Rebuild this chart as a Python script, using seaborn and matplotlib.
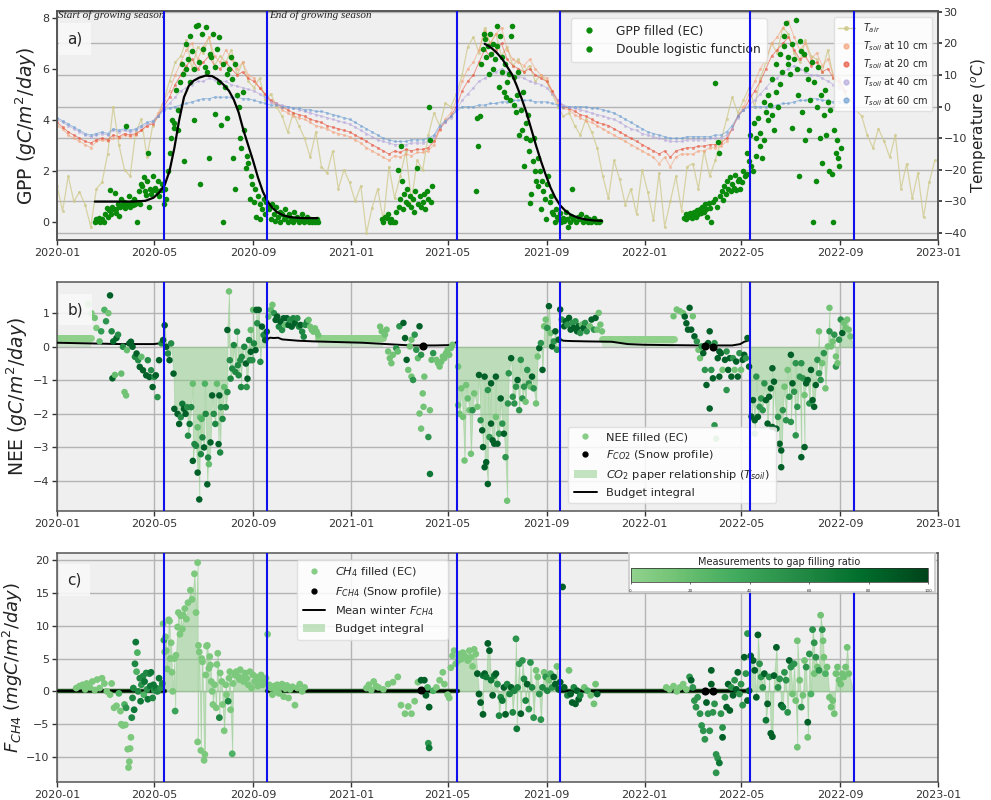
import numpy as np
import pandas as pd
import matplotlib
matplotlib.use("Agg")
import matplotlib.pyplot as plt
from matplotlib.colors import LinearSegmentedColormap, Normalize
from matplotlib.cm import ScalarMappable
from matplotlib.lines import Line2D
from matplotlib.patches import Patch
import seaborn as sns

# ---------------- DATA ----------------
START = "2020-01-01"
season_start = ["2020-05-13", "2021-05-13", "2022-05-12"]
season_end = ["2020-09-18", "2021-09-18", "2022-09-18"]

# weekly temperatures (deg C), first value on 2020-01-01
t_air = [-25,-33,-22,-30,-27, -31,-38,-26,-24, -15,0,-12,-20, -22,-8,-4,-16,-6, -3,2,8,14, 16,21,12,19,
         17,22,13,16,14, 18,10,14,8, 6,9,2,4, 0,-3,-8,-2,-6, -10,-16,-8,-19, -21,-14,-26,-20,-24,
         -30,-25,-40,-32, -26,-36,-19,-29, -22,-14,-30,-17, -20,-9,-2,-6,1, 0,4,10,19, 22,17,25,20,
         23,16,19,13,15, 11,13,8,10, 8,4,0,-3, -2,-6,-9,-4,-8, -13,-22,-29,-17, -23,-31,-26,-34,-20,
         -27,-36,-21,-38, -30,-22,-33,-19, -18,-26,-14,-22,-17, -11,-4,3,-2, 2,6,0,9, 14,20,17,25,
         23,17,14,21,16, 15,11,18,9, 7,4,2,-1, -3,-9,-13,-7,-11, -16,-9,-26,-18, -29,-21,-35,-24,-17]
t_soil10 = [-6,-7,-9,-10,-11, -12,-13,-11,-10.5, -11,-10,-10,-9, -9.5,-9,-7.5,-6,-5, -2,2,5,10, 14,18,20,15,
            19,22,16,14,18, 15,12,14,10, 9,6,4,1.5, 0.5,-1,-2,-3,-3.5, -4,-5,-6,-6.5, -7,-8,-8.5,-9,-9.5,
            -10.5,-11.5,-13,-14, -15,-16,-17,-15.5, -16,-15,-15.5,-14.5, -14.5,-14,-12,-7.5,-4, -2,2,8,12,
            14,18,24,20, 23,25,18,15,14, 13,15,12,10, 9,5,1,-0.5, -1,-2.5,-3.5,-4.5,-5, -6,-7,-8,-9,
            -10,-11,-12,-13,-14, -15,-16,-18,-16, -19,-16,-15,-15, -15,-14,-14,-13,-13, -12.5,-11,-7,-3,
            0,4,8,12, 15,20,22,25, 27,22,18,20,15, 17,13,15,10, 9,5]
t_soil20 = [-5,-6.5,-8,-9,-10, -11,-11.5,-10.5,-10, -10.5,-9,-9.5,-8.5, -9,-8.5,-7.5,-6,-5.5, -3,0,3,7, 10,13,15,12,
            14,16,13,12,14, 12,10,11,9, 8,6,4,2, 1,0,-1,-2,-2.5, -3,-4,-4.5,-5, -6,-6.5,-7,-7.5,-8,
            -9,-10,-11,-12, -13,-14,-15,-14, -14.5,-13.5,-14,-13.5, -13.5,-13,-11,-7,-5, -3,0,5,8,
            10,14,18,16, 18,20,15,13,12, 11,12,10,9, 8,5,2,0, -0.5,-1.5,-2.5,-3,-4, -5,-5.5,-6,-7,
            -8,-9,-10,-11,-12, -13,-14,-15,-14, -16,-14,-13.5,-13, -13,-12.5,-12.5,-12,-12, -11.5,-10,-7,-3,
            -1,2,5,8, 12,16,18,20, 22,18,15,16,13, 14,11,12,9, 8,5]
t_soil40 = [-4,-5,-6,-7,-8, -9,-9.5,-9,-8.5, -9,-7.5,-8,-7.5, -8,-7.5,-6.5,-5.5,-5, -3,-0.5,1,3, 5,6,7,8,
            8,9,8.5,8,8, 7,6.5,6,5.5, 5,4,3,1.5, 1,0.5,0,-0.5,-1, -1.5,-2,-2.5,-3, -3.5,-4,-4.5,-5,-5.5,
            -6.5,-7.5,-8.5,-9.5, -10.5,-11,-11.5,-12, -12,-12,-11.5,-11.5, -11.5,-11,-9.5,-6.5,-5, -3.5,-1,2,4,
            6,8,9,10, 11,12,11,10,9.5, 9,8,7.5,7, 6,4,2,0.5, 0,-0.5,-1,-1.5,-2, -2.5,-3,-3.5,-4,
            -5,-6,-7,-7.5,-8.5, -9,-9.5,-10,-10.5, -11,-11,-11,-10.5, -10.5,-10.5,-10.5,-10,-10, -10,-9,-7,-3.5,
            -1,0.5,2,4, 6,8,9,11, 12,13,12,11,10, 10,9,8,7, 6,5]
t_soil60 = [-3.5,-4.5,-5.5,-6.5,-7.5, -8.5,-9,-8.5,-8, -8.5,-7,-7.5,-7, -7.5,-7,-6,-5,-4.5, -3,-1,-0.5,0, 0.5,1,1.5,2,
            2.5,2.5,3,3,3, 3,3,2.5,2.5, 2,1.5,1,0.5, 0.5,0,0,-0.5,-0.5, -1,-1,-1.5,-1.5, -2,-2.5,-3,-3.5,-4,
            -5,-6,-7,-8, -9,-10,-10.5,-11, -11,-11,-10.5,-10.5, -10.5,-10,-9,-6,-4.5, -3,-1.5,0,0,
            0,0.5,0.5,1, 1,1.5,1.5,2,2, 2,2,1.5,1.5, 1.5,1,0.5,0, 0,0,0,0,-0.5, -0.5,-1,-1.5,-2,
            -3,-4,-5,-6,-7, -8,-8.5,-9,-9.5, -10,-10,-10,-9.5, -9.5,-9.5,-9.5,-9.5,-9, -9,-8,-6,-3,
            -1,0,0,0, 0,0,0.5,1, 1,1.5,2,2,2.5, 2.5,2,2,1.5, 1.5,1]

# GPP (gC/m2/day): (day since 2020-01-01, value)
gpp_2020 = [(47,0.0),(49,0.1),(50,0.05),(52,0.15),(54,0.0),(56,0.1),(58,0.0),(60,0.3),(62,0.55),(63,0.2),(65,0.45),
            (66,1.25),(67,0.3),(69,0.6),(70,0.5),(72,1.15),(73,0.35),(74,0.5),(76,0.7),(77,0.25),(79,0.6),(80,0.9),
            (82,0.7),(83,0.8),(85,0.55),(86,3.75),(87,0.75),(88,0.7),(90,1.0),(91,0.6),(93,0.8),(94,0.65),(96,0.9),
            (97,0.7),(99,0.0),(100,0.8),(102,1.2),(103,0.7),(105,1.5),(106,1.4),(108,1.75),(109,1.2),(111,1.05),
            (112,1.6),(113,2.7),(114,0.6),(116,1.3),(117,1.1),(119,1.8),(120,1.25),(122,1.35),(124,1.2),(126,1.6),
            (127,1.0),(129,1.25),(131,1.5),(133,0.7),(134,1.3),
            (136,0.9),(138,2.0),(140,2.7),(142,3.3),(143,4.0),(145,3.7),(146,3.9),(148,5.2),(150,4.4),(151,3.6),
            (153,5.5),(155,6.2),(157,5.8),(158,2.4),(160,6.0),(161,7.0),(163,6.4),(165,5.5),(166,7.3),(168,6.7),
            (170,6.0),(171,4.0),(173,7.7),(175,7.75),(177,6.3),(178,1.5),(180,7.4),(182,6.8),(184,6.1),(185,7.65),
            (187,5.9),(189,2.5),(190,6.6),(192,6.5),(194,7.4),(196,4.25),(197,6.1),(199,6.8),(201,5.5),(202,7.25),
            (204,3.8),(206,6.2),(207,0.0),(209,5.3),(211,5.8),(212,4.1),(214,6.0),(216,6.5),(218,5.6),(219,2.5),
            (221,1.3),(222,6.2),(224,5.0),(226,4.5),(228,3.3),(229,2.9),(231,5.1),(233,3.6),(235,2.1),(236,2.6),
            (238,2.3),(240,0.9),(241,1.8),(243,1.5),(245,0.8),(246,1.3),(248,0.2),(250,1.0),(252,0.7),(253,0.1),
            (255,0.5),(257,0.9),(259,0.3),(260,0.8),(262,0.6),
            (264,0.5),(266,0.1),(268,0.7),(270,0.3),(271,0.05),(273,0.6),(275,0.2),(277,0.4),(278,0.0),(280,0.3),
            (282,0.1),(284,0.5),(285,0.2),(287,0.0),(289,0.3),(291,0.15),(293,0.0),(295,0.4),(297,0.1),(299,0.2),
            (301,0.0),(303,0.1),(305,0.3),(307,0.0),(309,0.05),(311,0.2),(313,0.0),(315,0.1),(317,0.0),(319,0.05),
            (321,0.0),(323,0.1),(325,0.0)]
gpp_2021 = [(404,0.1),(406,0.0),(408,0.2),(410,0.15),(412,0.3),(414,0.0),(416,0.1),(418,0.0),(420,0.0),(422,0.4),
            (424,2.05),(425,0.6),(427,0.9),(428,3.0),(429,1.6),(430,0.5),(432,1.1),(434,0.8),(436,1.3),(437,0.7),
            (439,1.0),(441,0.6),(443,0.9),(444,0.4),(446,1.2),(448,2.1),(449,0.7),(451,1.0),(453,0.6),(455,0.8),
            (456,1.1),(458,0.5),(460,1.2),(462,0.9),(463,4.5),(464,3.2),(465,0.8),(467,1.4),
            (521,1.2),(523,4.1),(524,3.0),(526,4.15),(528,6.2),(530,6.8),(531,7.4),(533,7.2),(534,6.5),(536,6.9),
            (537,5.8),(539,7.4),(540,6.6),(542,7.0),(543,6.0),(545,6.4),(547,7.7),(548,6.9),(550,5.3),(551,7.3),
            (553,5.9),(554,6.5),(556,5.1),(557,6.2),(559,4.9),(560,5.5),(562,5.8),(563,4.8),(565,7.3),(566,7.7),
            (568,4.6),(569,5.7),(571,4.3),(572,5.0),(574,5.9),(575,3.4),(577,4.4),(578,3.6),(580,5.1),(581,2.2),
            (583,3.9),(584,3.3),(586,4.2),(587,2.8),(588,0.75),(589,3.2),(590,1.1),(592,2.4),(593,3.3),(595,2.0),
            (596,1.6),(598,2.5),(599,1.4),(601,2.0),(602,0.5),(604,1.6),(605,1.2),(607,0.9),(608,0.1),(610,1.5),
            (611,1.8),(613,0.8),(614,1.0),(616,0.4),
            (617,0.3),(619,0.0),(621,0.5),(622,0.2),(624,0.1),(626,0.35),(627,0.0),(629,0.15),(631,0.05),(633,0.4),
            (635,0.1),(636,-0.2),(638,0.0),(640,0.25),(641,1.3),(642,0.1),(646,0.0),(648,0.2),(650,0.1),(652,0.3),
            (654,0.0),(656,0.05),(658,0.2),(660,0.0),(662,0.1),(664,0.0),(666,0.05),(668,0.15),(670,0.0),(672,0.05),
            (674,0.0),(676,0.02)]
gpp_2022 = [(780,0.15),(782,0.3),(783,0.1),(785,0.2),(787,0.25),(788,0.35),(790,0.15),(791,0.3),(793,0.4),(795,0.2),
            (796,0.45),(798,0.3),(800,0.5),(801,0.35),(803,0.6),(805,0.4),(806,0.7),(808,0.5),(809,0.2),(811,0.75),
            (813,0.55),(814,0.0),(816,0.8),(818,5.45),(819,0.9),(821,0.6),(822,3.15),(824,2.7),(825,1.0),(827,1.2),
            (829,0.85),(830,1.4),(832,1.1),(833,1.6),(835,1.3),(837,1.75),(838,1.2),(840,1.5),(842,1.35),(843,1.85),
            (845,1.25),(847,1.6),(848,1.7),(850,1.3),(852,1.55),(853,2.0),
            (856,1.8),(858,1.9),(859,2.7),(861,2.4),(862,3.4),(864,2.2),(866,2.0),(867,3.9),(869,3.3),(870,2.6),
            (872,4.1),(874,3.0),(875,3.5),(877,2.5),(879,4.7),(880,3.2),(882,4.3),(884,4.0),(885,5.0),(887,4.6),
            (889,5.6),(890,4.2),(892,3.6),(894,5.1),(895,6.2),(897,4.5),(899,5.4),(900,6.6),(902,5.9),(904,7.3),
            (905,6.9),(907,7.8),(909,6.2),(910,6.5),(912,5.8),(914,7.0),(915,3.7),(917,6.4),(919,7.95),(920,6.0),
            (922,5.0),(923,1.8),(924,7.1),(925,6.7),(927,4.3),(929,6.6),(930,3.2),(932,6.0),(934,5.6),(935,3.6),
            (937,4.8),(939,6.3),(940,0.0),(942,5.5),(944,1.6),(945,4.5),(947,6.1),(949,3.3),(950,5.0),(952,2.3),
            (954,4.2),(955,5.2),(957,3.4),(959,4.7),(960,2.0),(962,4.4),(964,1.9),(965,0.0),(967,3.6),(969,2.7),
            (970,3.2),(972,2.5),(973,2.2),(975,2.9)]
# double logistic fit (day, GPP)
dlog_2020 = [(47,0.8),(70,0.8),(95,0.8),(110,0.83),(120,0.95),(127,1.15),(134,1.45),(140,2.0),(146,2.9),(152,4.0),
             (158,4.9),(164,5.35),(170,5.55),(177,5.67),(185,5.75),(193,5.73),(200,5.6),(207,5.4),(214,5.15),
             (220,4.8),(226,4.3),(232,3.6),(238,3.0),(244,2.4),(250,1.75),(256,1.2),(262,0.8),(268,0.55),
             (274,0.38),(282,0.25),(292,0.18),(305,0.15),(324,0.15)]
dlog_2021 = [(532,7.0),(540,6.85),(547,6.65),(554,6.4),(560,6.1),(566,5.8),(572,5.35),(578,4.85),(584,4.3),(590,3.65),
             (596,3.0),(602,2.4),(608,1.85),(614,1.35),(620,0.95),(626,0.65),(633,0.42),(640,0.27),(648,0.17),
             (657,0.1),(667,0.06),(678,0.04)]

# NEE (gC/m2/day): (day, value, measurement ratio %)
nee_2020 = [(39,1.27,10),(43,1.0,10),(47,0.86,15),(49,0.56,10),(53,0.16,20),(55,0.46,45),(59,1.1,30),(61,0.76,50),
            (64,1.0,15),(66,1.53,85),(68,0.46,60),(69,-0.94,85),(70,0.16,80),(72,-0.84,20),(74,0.26,80),(76,0.36,55),
            (80,-0.8,20),(82,0.0,55),(84,-1.35,15),(86,-1.45,15),(87,-0.1,20),(90,0.1,85),(92,0.15,85),(94,0.0,85),
            (97,-0.3,60),(99,-0.2,85),(101,-0.4,55),(103,-0.6,85),(105,-0.3,20),(107,-0.7,85),(111,-0.85,85),
            (113,-0.4,55),(115,-0.9,85),(117,-0.7,55),(119,-1.2,85),(121,-0.9,55),(123,-0.85,85),(125,-1.5,50),
            (127,-0.4,85),(130,0.1,55),(132,0.2,85),(134,0.64,85),
            (136,0.0,85),(138,-0.2,55),(140,-0.4,85),(142,0.1,55),(145,-0.8,85),(146,-1.85,85),(150,-2.0,85),
            (152,-2.3,85),(154,-2.1,55),(156,-1.7,70),(158,-1.85,85),(160,-2.0,85),(162,-1.8,55),(163,-2.65,55),
            (165,-2.3,70),(167,-1.8,60),(169,-1.1,20),(169,-3.4,85),(171,-2.9,60),(173,-2.95,60),(175,-3.75,85),
            (175,-2.4,20),(177,-4.55,85),(178,-2.1,20),(179,-3.2,60),(180,-2.15,30),(181,-2.7,60),(183,-3.0,85),
            (184,-1.1,30),(185,-2.0,60),(187,-4.1,85),(188,-3.3,60),(189,-3.5,20),(191,-2.85,85),(193,-1.45,85),
            (195,-2.0,55),(197,-2.3,60),(199,-1.1,20),(201,-2.9,85),(203,-3.15,60),(202,-1.45,85),(204,-1.8,55),
            (206,-2.15,60),(208,-1.2,20),(210,-1.8,60),(212,-1.35,55),(212,0.5,85),(214,1.65,15),(215,-0.4,55),
            (216,-0.95,60),(218,-0.65,60),(220,0.05,60),(222,-0.75,60),(224,0.45,55),(225,-0.55,60),(226,-0.85,60),
            (228,-0.4,55),(229,-1.2,60),(230,-0.3,60),(233,0.0,60),(235,-0.5,85),(236,-1.2,50),(237,-0.95,85),
            (239,0.2,60),(240,-0.4,60),(241,0.5,20),(241,-0.15,85),(243,-0.4,55),(244,1.1,20),(245,0.1,60),
            (247,-0.1,85),(248,1.1,85),(249,0.7,55),(251,1.1,85),(253,-0.45,55),(255,0.6,85),(257,0.35,60),(259,0.2,85),
            (261,0.45,85),(263,0.9,20),(266,1.1,20),(268,1.25,15),(270,1.0,50),(272,0.8,85),(274,0.9,85),(276,0.6,60),
            (278,0.75,85),(280,0.5,55),(282,0.85,85),(284,0.65,20),(286,0.85,85),(288,0.65,85),(290,0.8,55),
            (292,0.6,85),(294,0.85,60),(296,0.7,85),(299,0.85,55),(301,0.6,60),(303,0.65,85),(305,0.45,60),
            (307,0.3,60),(309,0.65,55),(311,0.75,60),(313,0.8,20),(315,0.6,15),(317,0.5,15),(319,0.45,15),
            (321,0.55,15),(323,0.45,15),(325,0.35,15)]
nee_2021 = [(402,0.6,15),(404,0.46,15),(408,0.36,15),(410,0.51,15),(412,-0.14,15),(414,-0.34,15),(416,-0.49,15),
            (418,-0.24,15),(422,-0.04,50),(424,-0.14,20),(426,0.61,50),(431,0.71,85),(433,0.26,85),(435,-0.39,85),
            (437,-0.69,15),(439,0.01,15),(441,0.21,15),(441,-0.89,15),(443,-0.99,50),(445,0.36,50),(447,-0.09,50),
            (449,-0.34,20),(451,0.61,85),(453,-0.24,50),(455,-1.39,15),(456,-1.79,15),(451,-1.99,15),(453,-2.44,15),
            (457,-0.89,15),(462,-2.69,50),(464,-3.79,70),(464,-1.89,15),(466,-0.39,20),(468,-0.19,50),(472,-0.39,15),
            (474,-0.49,15),(476,-0.59,15),(478,-0.45,15),(480,-0.29,15),(482,-0.34,15),(484,-0.19,15),(486,-0.09,15),
            (488,-0.24,15),(490,-0.04,15),(492,0.06,15),
            (499,-0.59,15),(499,-1.74,15),(501,-2.0,15),(503,-1.24,15),(505,-2.09,15),(507,-3.39,15),(509,-1.14,15),
            (511,-1.54,20),(513,-1.89,15),(515,-3.19,15),(517,-1.89,50),(519,-1.39,15),(523,-1.79,15),(525,-0.84,85),
            (527,-2.19,50),(529,-2.49,85),(530,-2.99,85),(532,-0.89,85),(532,-3.59,85),(534,-3.44,85),(536,-4.09,85),
            (536,-1.29,50),(538,-2.69,50),(540,-1.09,85),(540,-2.29,85),(542,-2.79,85),(544,-2.89,85),(546,-0.89,85),
            (546,-2.09,15),(548,-2.89,85),(550,-2.59,50),(552,-1.54,85),(554,-2.29,50),(556,-2.59,85),(558,-3.29,50),
            (560,-4.59,15),(561,-1.69,50),(562,-0.79,50),(565,-0.34,85),(567,-1.49,50),(569,-1.69,50),(571,-1.19,50),
            (573,-0.99,85),(575,-1.89,50),(577,-0.39,50),(579,-1.54,50),(581,-1.19,50),(583,-1.64,15),(585,-0.69,50),
            (587,-1.09,50),(589,-1.19,15),(591,-0.89,85),(593,-1.24,50),(596,-1.69,15),(598,-0.29,15),(600,-0.04,85),
            (602,0.11,50),(604,-0.69,85),(606,0.61,15),(608,0.81,15),(610,0.56,50),(612,1.21,85),(614,0.41,15),
            (616,0.01,85),(618,0.16,50),(620,0.46,85),(622,-0.09,50),(624,0.21,85),
            (626,1.11,85),(628,0.81,50),(631,0.61,85),(633,0.76,85),(635,0.66,50),(637,0.86,85),(639,0.51,85),
            (641,0.71,50),(643,0.56,85),(645,0.76,50),(647,0.46,85),(649,0.61,85),(651,0.41,50),(653,0.66,15),
            (655,0.56,85),(657,0.71,50),(659,0.46,50),(663,0.61,15),(665,0.81,85),(668,0.51,50),(670,0.86,85),
            (672,0.51,15),(674,1.01,15),(676,0.66,15),(678,0.46,15)]
nee_2022 = [(767,0.91,15),(771,1.11,15),(775,1.06,15),(779,1.0,15),(781,0.9,85),(783,0.7,85),(785,0.51,85),
            (787,1.16,85),(789,0.51,85),(791,0.91,15),(793,0.31,85),(796,0.16,50),(798,-0.09,15),(800,-0.34,15),
            (802,0.01,50),(804,-0.19,85),(806,-0.69,50),(808,-1.14,85),(810,0.11,85),(812,0.46,85),(812,-1.84,85),
            (814,-0.69,50),(816,-0.94,85),(818,-2.34,50),(820,-2.74,15),(818,0.11,50),(822,-0.34,85),(824,-0.89,85),
            (824,-0.14,85),(826,-0.19,85),(828,-0.69,15),(831,-0.39,85),(833,-1.29,50),(833,-0.14,50),(835,-0.69,85),
            (837,-0.34,85),(839,-0.89,85),(841,-0.34,50),(843,-0.69,15),(845,-0.44,85),(847,-0.89,85),(849,-0.19,50),
            (851,-0.69,15),(853,-0.39,85),(855,-0.24,85),(857,-0.34,50),(859,0.26,85),(861,-0.59,85),
            (864,-2.08,85),(866,-1.59,85),(868,-2.19,85),(868,-2.59,15),(870,-0.89,50),(872,-2.09,85),(874,-1.79,50),
            (876,-1.54,50),(878,-1.89,50),(880,-1.09,50),(882,-1.59,85),(884,-2.29,85),(886,-1.49,85),(888,-1.24,85),
            (890,-0.64,85),(890,-2.39,85),(892,-1.04,85),(895,-2.44,85),(897,-2.09,50),(899,-2.89,85),(901,-3.09,85),
            (901,-3.59,85),(903,-1.89,50),(905,-1.19,15),(907,-2.19,50),(909,-0.69,15),(911,-1.49,50),(913,-0.24,85),
            (913,-2.24,50),(915,-1.09,85),(917,-1.34,50),(919,-2.64,50),(919,-0.49,50),(921,-1.79,50),(924,-0.89,50),
            (926,-3.29,85),(926,-0.49,50),(928,-0.94,50),(930,-2.99,85),(930,-1.44,15),(932,-1.09,85),(934,-0.99,85),
            (936,-1.69,50),(938,-0.69,85),(940,-1.59,85),(942,-1.79,85),(944,-1.14,85),(946,-0.39,50),(948,0.46,15),
            (948,-0.79,50),(950,-0.99,50),(952,-0.49,15),(954,-0.19,50),(956,-1.24,15),(959,0.01,15),(961,1.16,15),
            (961,0.46,50),(963,0.01,15),(965,0.16,15),(967,0.36,50),(969,-0.29,15),(969,-0.59,50),(971,-0.49,15),
            (973,0.21,50),(975,0.81,50),(977,0.41,85),(979,0.71,15),(981,0.56,15),(983,0.81,15),(985,0.51,15),
            (987,0.31,15)]
# winter gap-filled NEE plateaus: (first day, last day, value)
nee_winter_bands = [(0, 42, 0.27), (325, 405, 0.27), (678, 767, 0.23)]
# NEE budget integral line segments (day, value)
nee_budget = [
    [(0,0.12),(20,0.11),(40,0.1),(60,0.09),(80,0.08),(100,0.08),(120,0.08),(128,0.1),(131,0.12),(134,0.2)],
    [(261,0.22),(265,0.27),(270,0.26),(275,0.27),(280,0.22),(290,0.2),(300,0.18),(320,0.16),(350,0.14),
     (380,0.12),(410,0.08),(440,0.04),(470,0.04),(490,0.05),(494,0.1),(498,0.15)],
    [(626,0.22),(630,0.18),(640,0.17),(660,0.16),(690,0.15),(710,0.08),(730,0.06),(760,0.05),(800,0.04),
     (840,0.04),(850,0.08),(855,0.15),(862,0.2)]]
nee_snow = [(455,0.03),(806,0.03),(816,0.0)]

# CH4 (mgC/m2/day): (day, value, measurement ratio %)
ch4_2020 = [(24,0.5,10),(28,0.8,10),(32,1.0,10),(35,0.3,10),(37,1.2,10),(41,0.6,10),(44,1.5,10),(47,0.2,10),
            (50,1.8,10),(53,0.5,10),(56,2.0,10),(59,1.2,10),(62,0.0,10),(66,-0.5,10),(68,1.2,10),(71,-2.5,10),
            (74,-2.2,10),(77,-0.3,30),(79,-3.0,10),(80,-5.0,10),(82,-5.2,10),(84,-2.0,30),(85,-5.1,10),(86,-2.5,50),
            (88,-8.8,10),(89,-11.6,10),(90,-10.7,10),(91,-8.7,10),(92,-7.0,10),(93,-4.0,60),(94,-1.0,60),(95,0.5,60),
            (96,-2.8,70),(97,4.2,60),(98,7.5,70),(99,3.0,30),(100,5.9,30),(101,0.0,60),(103,2.0,60),(104,-1.5,70),
            (105,1.0,50),(107,2.3,60),(108,-0.5,30),(109,1.5,70),(111,2.8,60),(112,0.3,50),(113,-1.2,70),(115,2.7,60),
            (116,0.8,70),(117,2.9,70),(119,-1.0,60),(120,1.0,70),(121,0.2,50),(123,0.5,70),(125,0.0,60),(127,2.0,70),
            (129,0.5,50),(131,1.2,60),
            (132,10.3,10),(133,7.8,40),(134,6.0,10),(135,8.3,10),(136,6.2,10),(137,3.4,10),(139,10.9,10),(140,10.7,10),
            (141,5.0,10),(142,7.4,10),(143,2.9,10),(144,0.0,10),(146,5.0,10),(147,-3.0,40),(148,5.5,10),(150,9.8,10),
            (151,12.0,10),(153,8.7,10),(154,11.5,10),(156,9.5,10),(157,11.6,10),(159,12.6,10),(161,11.0,10),
            (163,13.5,10),(166,15.4,10),(168,14.0,10),(171,17.9,10),(173,12.0,10),(175,19.6,10),(176,7.0,10),
            (175,-7.7,10),(177,6.0,10),(179,-9.0,10),(180,5.0,10),(181,4.5,10),(183,-10.5,10),(184,-9.6,10),
            (185,2.5,10),(186,6.9,10),(187,7.0,10),(189,3.5,10),(190,5.3,10),(191,4.0,10),(192,1.5,10),(193,0.0,10),
            (194,-2.0,10),(196,1.0,10),(202,-4.0,60),(198,-2.5,10),(199,4.1,10),(200,5.8,10),(203,2.8,10),
            (205,1.5,10),(206,-2.0,10),(208,-6.0,10),(218,-9.5,30),(210,1.0,10),(211,-0.5,10),(213,-1.5,60),
            (214,2.0,10),(215,3.0,10),(216,-2.8,10),(219,1.2,10),(221,2.5,10),(223,3.0,10),(225,2.3,10),(227,1.8,10),
            (228,3.3,10),(230,2.0,10),(232,1.5,10),(234,2.8,10),(236,2.0,10),(238,1.0,10),(240,3.0,10),(242,0.5,10),
            (244,2.5,10),(246,1.5,10),(248,2.2,10),(250,0.8,10),(252,1.8,10),(254,2.5,10),(256,1.0,10),(258,1.5,10),
            (260,2.0,10),
            (262,8.7,10),(264,1.0,10),(266,0.5,10),(268,-0.5,10),(270,0.8,10),(272,0.2,10),(274,1.0,10),(276,-0.3,10),
            (278,0.6,10),(280,1.1,10),(282,-0.8,10),(284,0.4,10),(286,0.9,10),(288,-1.0,10),(290,0.3,10),(293,0.7,10),
            (296,-2.1,10),(299,0.5,10),(302,1.1,10),(305,0.0,10),(308,0.6,10)]
ch4_2021 = [(385,0.5,10),(388,1.0,10),(391,0.2,10),(394,1.5,10),(397,0.8,10),(400,0.6,10),(406,0.3,10),(412,1.1,10),
            (418,1.4,10),(424,2.2,10),(428,-2.1,10),(433,-3.4,10),(437,-2.3,10),(441,-3.4,10),(445,-1.5,10),
            (449,1.4,10),(453,1.7,85),(457,1.7,85),(459,-0.6,85),(461,0.6,30),(463,-2.4,85),(462,-7.9,50),
            (463,-8.6,70),(468,0.1,30),(472,0.6,10),(476,1.7,10),(480,2.9,10),(482,1.1,10),(486,-0.5,10),
            (488,-1.0,10),(490,3.6,10),(492,5.4,10),(494,6.2,10),(496,4.2,10),
            (499,4.7,10),(501,5.7,10),(503,4.9,10),(505,5.9,10),(507,5.4,10),(509,5.2,10),(511,4.7,10),(513,6.2,10),
            (515,5.2,10),(517,3.8,10),(519,6.4,10),(521,5.7,10),(523,2.7,85),(525,-0.4,85),(527,-1.7,85),
            (530,-3.5,85),(530,2.4,70),(532,2.7,85),(534,2.2,70),(536,7.3,85),(538,6.2,85),(540,1.7,70),
            (542,-0.6,85),(544,2.4,70),(546,2.7,85),(548,1.1,50),(550,-3.7,60),(552,-0.9,60),(554,-1.4,70),
            (556,0.6,85),(558,-3.5,85),(560,1.1,60),(563,-0.4,60),(565,0.6,85),(567,-3.2,60),(569,0.1,60),
            (571,8.0,50),(572,-5.7,70),(573,0.6,60),(575,4.2,50),(577,-3.4,85),(579,4.7,50),(581,1.9,60),
            (583,-1.4,60),(585,1.1,85),(587,-2.7,50),(589,4.4,50),(591,0.6,60),(593,-4.0,50),(596,3.2,15),
            (598,2.2,15),(600,-0.4,50),(602,-4.3,50),(604,0.6,60),(606,2.9,15),(608,2.2,50),(610,0.1,60),
            (612,1.7,15),(614,2.7,30),(616,0.6,50),(618,2.2,85),(620,1.1,85),(622,3.8,15),(624,0.3,85),(626,1.4,85),
            (629,15.9,85),
            (631,0.6,85),(635,-0.6,60),(637,3.2,15),(639,-0.4,85),(641,-1.7,85),(643,0.6,60),(645,-1.9,85),
            (647,0.1,85),(649,-1.2,85),(651,-0.6,60),(656,0.6,15),(660,0.1,30),(664,-0.6,15),(668,-1.9,15),
            (670,1.1,15),(672,-0.4,85)]
ch4_2022 = [(758,0.6,10),(762,0.3,10),(767,0.8,10),(771,0.0,10),(775,0.6,10),(779,1.1,10),(783,0.3,10),(787,2.2,50),
            (789,1.7,85),(791,0.6,50),(793,-1.4,50),(795,-2.4,50),(797,-0.9,50),(800,-3.4,50),(802,-5.2,50),
            (804,-6.0,50),(806,-7.3,50),(808,-1.7,85),(810,-3.4,50),(812,-6.0,50),(814,3.2,85),(814,1.1,85),
            (816,-3.2,50),(818,-1.9,50),(820,-9.6,50),(822,-10.2,50),(820,-12.4,50),(824,-10.9,70),(826,-3.4,50),
            (828,-5.5,50),(828,-7.0,85),(831,-0.9,50),(833,-2.4,85),(835,1.1,85),(837,-2.9,85),(839,0.6,50),
            (841,-0.6,85),(843,1.7,50),(845,0.3,85),(847,2.9,85),(849,-0.4,50),(851,1.1,50),(853,-2.1,50),
            (855,5.2,85),(857,2.7,50),(859,8.8,50),(859,-1.4,85),(861,0.1,85),(863,5.4,85),
            (866,4.7,85),(868,3.2,85),(870,-0.9,85),(872,8.6,85),(874,4.2,50),(876,2.2,50),(878,0.6,50),(880,2.7,85),
            (882,-4.4,70),(884,-1.9,85),(886,2.2,50),(888,-6.4,85),(890,-6.9,85),(892,2.4,85),(895,6.7,85),
            (897,0.6,50),(899,1.9,50),(901,-2.1,85),(903,-2.4,70),(905,2.9,50),(907,1.7,50),(909,-3.2,50),
            (911,4.7,85),(913,3.7,50),(915,-0.4,15),(917,4.2,50),(919,-1.4,15),(921,-8.5,15),(921,7.7,15),
            (924,1.7,15),(926,-2.4,50),(928,-0.6,15),(930,4.7,15),(932,3.7,50),(934,-4.7,85),(934,-7.0,15),
            (936,5.7,50),(938,-0.4,30),(940,9.4,50),(942,7.4,50),(942,2.7,15),(944,5.2,50),(946,3.7,15),
            (948,3.2,50),(950,11.6,15),(952,9.4,50),(953,7.7,15),(954,5.2,15),(956,2.7,30),(958,3.7,15),
            (961,-0.9,15),(963,-2.4,15),(965,-1.4,15),(967,-3.4,15),(969,2.7,15),(971,3.7,15),(973,1.7,15),
            (975,1.1,15),(977,2.7,15),(979,2.2,15),(981,3.7,15),(983,6.7,15),(985,2.7,15)]
ch4_winter_mean = [(0, 134, 0.1), (261, 499, 0.1), (626, 862, 0.1)]
ch4_snow = [(453,0.2),(806,0.0),(816,0.0)]

xtick_labels = ["2020-01","2020-05","2020-09","2021-01","2021-05","2021-09","2022-01","2022-05","2022-09","2023-01"]

# ---------------- HELPERS ----------------
base = np.datetime64(START)
def to_dates(days):
    return pd.to_datetime(base + np.array(days, dtype="int64").astype("timedelta64[D]"))

def day_of(s):
    return int((np.datetime64(s) - base).astype(int))

BG = "#efefef"
GRID = "#b4b4b4"
FILL = "#8ccb86"
cmap = LinearSegmentedColormap.from_list("gr", plt.cm.Greens(np.linspace(0.42, 1.0, 256)))
norm = Normalize(0, 100)
YLAB_FS = 13.5
LEG_FS = 8.2

sns.set_theme(style="white")
plt.rcParams["font.family"] = ["DejaVu Sans"]
plt.rcParams["mathtext.fontset"] = "dejavusans"

fig = plt.figure(figsize=(9.91, 8.0), dpi=100)
L, W = 0.0575, 0.889
axA = fig.add_axes([L, 0.700, W, 0.286])
axB = fig.add_axes([L, 0.361, W, 0.2865])
axC = fig.add_axes([L, 0.0225, W, 0.2865])

def style_x(ax):
    ax.set_xlim(pd.Timestamp("2020-01-01"), pd.Timestamp("2023-01-01"))
    ax.set_xticks(pd.to_datetime([t + "-01" for t in xtick_labels]))
    ax.set_xticklabels(xtick_labels)
    ax.tick_params(axis="both", labelsize=8, colors="#333333", length=3.5, width=1, direction="out",
                   bottom=True, left=True, pad=2)
    for s in ax.spines.values():
        s.set_color("#555555")
        s.set_linewidth(1.1)

def season_lines(ax):
    for s in season_start + season_end:
        ax.axvline(pd.Timestamp(s), color="#1010ee", lw=1.5, zorder=6)

def panel_label(ax, t):
    ax.text(0.012, 0.88, t, transform=ax.transAxes, fontsize=11, va="center", ha="left", zorder=10,
            bbox=dict(boxstyle="square,pad=0.55", fc="#f8f8f8", ec="none", alpha=0.9))

# ---------------- PANEL A ----------------
axT = axA.twinx()
axA.set_zorder(axT.get_zorder() + 1)
axA.patch.set_visible(False)
axT.patch.set_visible(True)
axT.set_facecolor(BG)

tdays = np.arange(len(t_air)) * 7
sdays = np.arange(len(t_soil10)) * 7
temp_styles = [
    (t_air, tdays, "#cfc98a", r"$T_{air}$", True),
    (t_soil10, sdays, "#f3a27a", r"$T_{soil}$ at 10 cm", False),
    (t_soil20, sdays, "#e8553e", r"$T_{soil}$ at 20 cm", False),
    (t_soil40, sdays, "#b7a8dc", r"$T_{soil}$ at 40 cm", False),
    (t_soil60, sdays, "#6f9fd2", r"$T_{soil}$ at 60 cm", False),
]
for vals, dd, col, lab, is_air in temp_styles:
    dfT = pd.DataFrame({"date": to_dates(dd[:len(vals)]), "T": vals})
    sns.lineplot(data=dfT, x="date", y="T", ax=axT, color=col, lw=0.9 if is_air else 0.7,
                 alpha=0.75 if is_air else 0.6, marker="o", markersize=2.2, markeredgewidth=0, zorder=2)
axT.set_ylim(-42.2, 30.2)
axT.set_yticks([-40, -30, -20, -10, 0, 10, 20, 30])
axT.yaxis.grid(True, color=GRID, lw=1)
axT.xaxis.grid(False)
axT.set_ylabel("")
axT.set_xlabel("")
axT.tick_params(axis="y", labelsize=8, colors="#333333", length=3, right=True, pad=1)
for s in axT.spines.values():
    s.set_color("#555555")
# right-hand axis title placed explicitly so it stays inside the canvas
fig.text(0.9885, 0.843, r"Temperature ($^o C$)", rotation=90, fontsize=11, color="#222222",
         ha="center", va="center")

gpp = gpp_2020 + gpp_2021 + gpp_2022
dfG = pd.DataFrame({"date": to_dates([p[0] for p in gpp]), "gpp": [p[1] for p in gpp]})
sns.scatterplot(data=dfG, x="date", y="gpp", ax=axA, color="#0a8a0a", s=16, linewidth=0, zorder=4)
for curve in (dlog_2020, dlog_2021):
    dfc = pd.DataFrame({"date": to_dates([p[0] for p in curve]), "g": [p[1] for p in curve]})
    sns.lineplot(data=dfc, x="date", y="g", ax=axA, color="black", lw=1.6, zorder=5)
season_lines(axA)
axA.set_ylim(-0.71, 8.28)
axA.set_yticks([0, 2, 4, 6, 8])
axA.set_ylabel(r"GPP ($gC/m^2/day$)", fontsize=YLAB_FS, color="#222222", labelpad=2)
axA.set_xlabel("")
style_x(axA)
axA.grid(False)
axA.text(pd.Timestamp("2020-01-02"), 8.12, "Start of growing season", family="Liberation Serif",
         style="italic", fontsize=8, va="center", ha="left", color="#222222")
axA.text(pd.Timestamp("2020-09-21"), 8.12, "End of growing season", family="Liberation Serif",
         style="italic", fontsize=8, va="center", ha="left", color="#222222")
panel_label(axA, "a)")

h1 = [Line2D([], [], ls="", marker="o", color="#0a8a0a", ms=3.5),
      Line2D([], [], ls="", marker="o", color="#0a8a0a", ms=3.5)]
leg1 = axA.legend(h1, ["GPP filled (EC)", "Double logistic function"], loc="upper left",
                  bbox_to_anchor=(0.576, 0.995), fontsize=LEG_FS + 0.6, frameon=True, framealpha=0.85,
                  handletextpad=1.2, borderpad=0.5, labelspacing=0.45)
leg1.get_frame().set_edgecolor("#dddddd")
axA.add_artist(leg1)
h2 = []
for vals, dd, col, lab, is_air in temp_styles:
    if is_air:
        h2.append(Line2D([], [], color=col, marker="o", ms=2.5, lw=1, alpha=0.8))
    else:
        h2.append(Line2D([], [], color=col, marker="o", ms=3.5, ls="", alpha=0.7))
leg2 = axA.legend(h2, [t[3] for t in temp_styles], loc="upper right", bbox_to_anchor=(0.999, 0.995),
                  fontsize=7, frameon=True, framealpha=0.85, handlelength=1.8, borderpad=0.4,
                  labelspacing=0.45)
leg2.get_frame().set_edgecolor("#dddddd")

# ---------------- PANEL B ----------------
axB.set_facecolor(BG)
nee = nee_2020 + nee_2021 + nee_2022
dfN = pd.DataFrame({"date": to_dates([p[0] for p in nee]), "day": [p[0] for p in nee],
                    "nee": [p[1] for p in nee], "ratio": [p[2] for p in nee]})
for s0, s1 in zip(season_start, season_end):
    d0, d1 = day_of(s0), day_of(s1)
    sub = dfN[(dfN.day >= d0) & (dfN.day <= d1)].sort_values("day")
    x = list(to_dates([d0])) + list(sub.date) + list(to_dates([d1]))
    y = [0] + list(sub.nee) + [0]
    axB.fill_between(x, 0, y, color=FILL, alpha=0.5, lw=0.6, zorder=1)
for a, b, v in nee_winter_bands:
    xd = to_dates([a, b])
    axB.fill_between(xd, 0, [v, v], color=FILL, alpha=0.35, lw=0, zorder=1)
    axB.plot(xd, [v, v], color="#8fd08a", lw=5, solid_capstyle="round", zorder=2)
for seg in nee_budget:
    dfb = pd.DataFrame({"date": to_dates([p[0] for p in seg]), "v": [p[1] for p in seg]})
    sns.lineplot(data=dfb, x="date", y="v", ax=axB, color="black", lw=1.4, zorder=3)
sns.scatterplot(data=dfN, x="date", y="nee", hue="ratio", palette=cmap, hue_norm=(0, 100), ax=axB,
                s=22, linewidth=0, legend=False, zorder=4)
dfS = pd.DataFrame({"date": to_dates([p[0] for p in nee_snow]), "v": [p[1] for p in nee_snow]})
sns.scatterplot(data=dfS, x="date", y="v", ax=axB, color="black", s=34, linewidth=0, zorder=5)
season_lines(axB)
axB.set_ylim(-4.9, 1.93)
axB.set_yticks([-4, -3, -2, -1, 0, 1])
axB.grid(True, color=GRID, lw=1)
axB.set_ylabel(r"NEE ($gC/m^2/day$)", fontsize=YLAB_FS, color="#222222", labelpad=2)
axB.set_xlabel("")
style_x(axB)
panel_label(axB, "b)")
hB = [Line2D([], [], ls="", marker="o", color=cmap(0.05), ms=3.5),
      Line2D([], [], ls="", marker="o", color="black", ms=3.5),
      Patch(facecolor=FILL, alpha=0.5, edgecolor="none"),
      Line2D([], [], color="black", lw=1.4)]
legB = axB.legend(hB, ["NEE filled (EC)", r"$F_{CO2}$ (Snow profile)", r"$CO_2$ paper relationship ($T_{soil}$)",
                       "Budget integral"], loc="lower left", bbox_to_anchor=(0.574, 0.01), fontsize=LEG_FS,
                  frameon=True, framealpha=0.85, borderpad=0.5, labelspacing=0.5)
legB.get_frame().set_edgecolor("#dddddd")

# ---------------- PANEL C ----------------
axC.set_facecolor(BG)
ch4 = ch4_2020 + ch4_2021 + ch4_2022
dfC = pd.DataFrame({"date": to_dates([p[0] for p in ch4]), "day": [p[0] for p in ch4],
                    "ch4": [p[1] for p in ch4], "ratio": [p[2] for p in ch4]})
for s0, s1 in zip(season_start, season_end):
    d0, d1 = day_of(s0), day_of(s1)
    sub = dfC[(dfC.day >= d0) & (dfC.day <= d1)].sort_values("day")
    x = list(to_dates([d0])) + list(sub.date) + list(to_dates([d1]))
    y = [0] + list(sub.ch4) + [0]
    axC.fill_between(x, 0, y, color=FILL, alpha=0.5, lw=0.6, zorder=1)
for a, b, v in ch4_winter_mean:
    dfw = pd.DataFrame({"date": to_dates([a, b]), "v": [v, v]})
    sns.lineplot(data=dfw, x="date", y="v", ax=axC, color="#1d4d1d", lw=3.2, zorder=2)
    sns.lineplot(data=dfw, x="date", y="v", ax=axC, color="black", lw=1.4, zorder=3)
sns.scatterplot(data=dfC, x="date", y="ch4", hue="ratio", palette=cmap, hue_norm=(0, 100), ax=axC,
                s=24, linewidth=0, legend=False, zorder=4)
dfS2 = pd.DataFrame({"date": to_dates([p[0] for p in ch4_snow]), "v": [p[1] for p in ch4_snow]})
sns.scatterplot(data=dfS2, x="date", y="v", ax=axC, color="black", s=34, linewidth=0, zorder=5)
season_lines(axC)
axC.set_ylim(-13.8, 21.1)
axC.set_yticks([-10, -5, 0, 5, 10, 15, 20])
axC.grid(True, color=GRID, lw=1)
axC.set_ylabel(r"$F_{CH4}$ ($mgC/m^2/day$)", fontsize=13, color="#222222", labelpad=0.5)
axC.set_xlabel("")
style_x(axC)
panel_label(axC, "c)")
hC = [Line2D([], [], ls="", marker="o", color=cmap(0.05), ms=3.5),
      Line2D([], [], ls="", marker="o", color="black", ms=3.5),
      Line2D([], [], color="black", lw=1.4),
      Patch(facecolor=FILL, alpha=0.5, edgecolor="none")]
legC = axC.legend(hC, [r"$CH_4$ filled (EC)", r"$F_{CH4}$ (Snow profile)", r"Mean winter $F_{CH4}$",
                       "Budget integral"], loc="upper left", bbox_to_anchor=(0.266, 0.995), fontsize=LEG_FS,
                  frameon=True, framealpha=0.85, borderpad=0.5, labelspacing=0.5)
legC.get_frame().set_edgecolor("#dddddd")

box = axC.inset_axes([0.649, 0.828, 0.348, 0.172])
box.set_facecolor("white")
box.set_xticks([]); box.set_yticks([])
for s in box.spines.values():
    s.set_color("#cccccc")
box.set_zorder(8)
cax = axC.inset_axes([0.651, 0.872, 0.338, 0.062])
cax.set_zorder(9)
cb = fig.colorbar(ScalarMappable(norm=norm, cmap=cmap), cax=cax, orientation="horizontal")
cb.set_ticks([0, 20, 40, 60, 80, 100])
cax.tick_params(labelsize=3, length=1.5, width=0.5, colors="#333333")
cb.outline.set_linewidth(0.5)
cax.set_title("Measurements to gap filling ratio", fontsize=7, pad=2, color="#222222")

fig.savefig("out.png", dpi=100, facecolor="white")
